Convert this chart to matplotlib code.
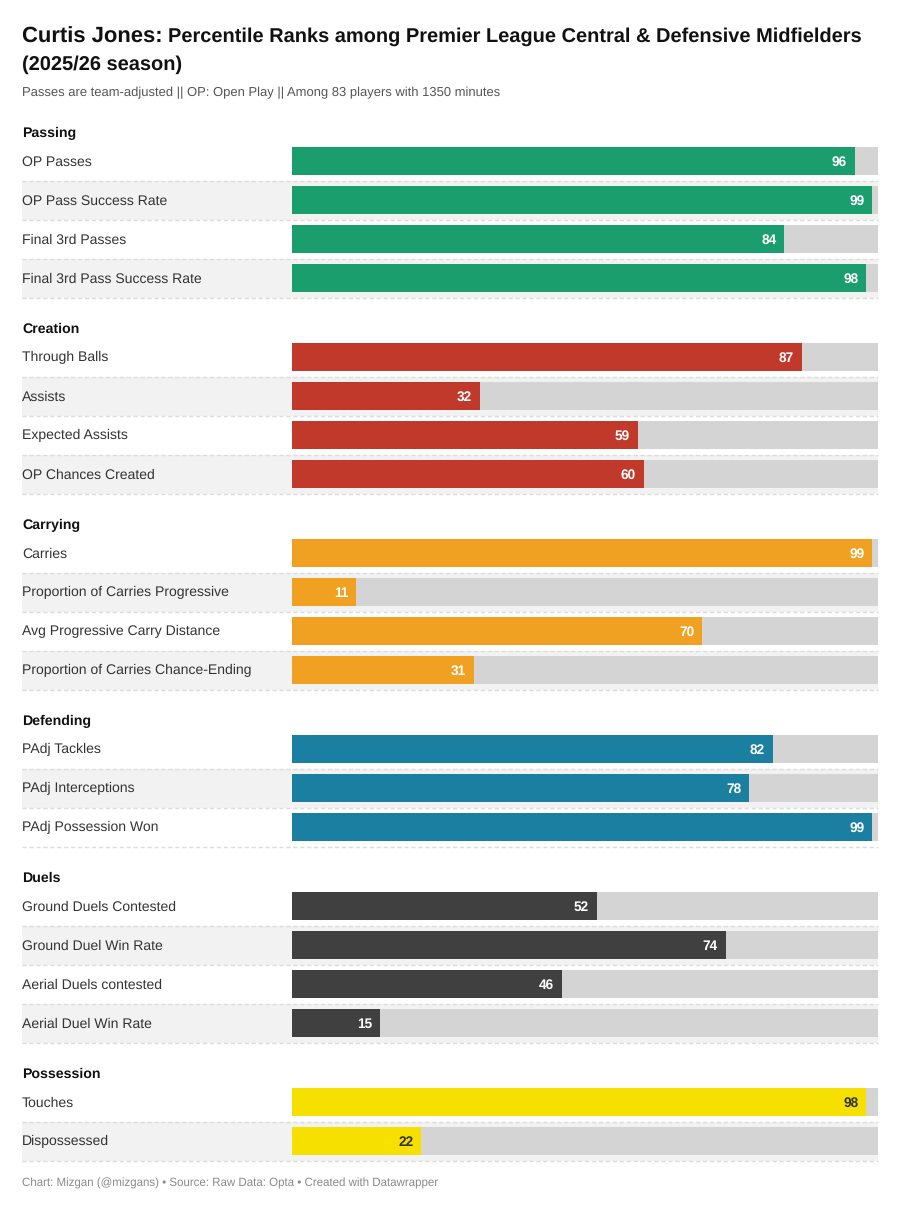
import matplotlib.pyplot as plt

plt.rcParams['font.family'] = ['Liberation Sans', 'DejaVu Sans']
plt.rcParams['text.hinting'] = 'no_hinting'

sections = ["Passing", "Creation", "Carrying", "Defending", "Duels", "Possession"]
colors = ["#1b9e6d", "#c0392b", "#f0a121", "#1b7fa2", "#404040", "#f5e000"]
text_colors = ["white", "white", "white", "white", "white", "#333333"]
metrics = [
    ["OP Passes", "OP Pass Success Rate", "Final 3rd Passes", "Final 3rd Pass Success Rate"],
    ["Through Balls", "Assists", "Expected Assists", "OP Chances Created"],
    ["Carries", "Proportion of Carries Progressive", "Avg Progressive Carry Distance",
     "Proportion of Carries Chance-Ending"],
    ["PAdj Tackles", "PAdj Interceptions", "PAdj Possession Won"],
    ["Ground Duels Contested", "Ground Duel Win Rate", "Aerial Duels contested", "Aerial Duel Win Rate"],
    ["Touches", "Dispossessed"],
]
values = [
    [96, 99, 84, 98],
    [87, 32, 59, 60],
    [99, 11, 70, 31],
    [82, 78, 99],
    [52, 74, 46, 15],
    [98, 22],
]

W, H = 910, 1219
fig = plt.figure(figsize=(W / 100, H / 100), dpi=100)
ax = fig.add_axes([0, 0, 1, 1])
ax.set_xlim(0, W)
ax.set_ylim(H, 0)
ax.axis('off')

# bar area: x pixels 292..878
bx = fig.add_axes([292 / W, 0, (878 - 292) / W, 1])
bx.set_xlim(0, 100)
bx.set_ylim(H, 0)
bx.axis('off')
bx.patch.set_alpha(0)

# title
t1 = ax.text(22, 34.5, "Curtis Jones:", fontsize=15.8, fontweight='bold', color='#111111', va='center_baseline')
fig.canvas.draw()
bb = t1.get_window_extent()
ax.text(bb.x1 + 5, 34.5, "Percentile Ranks among Premier League Central & Defensive Midfielders",
        fontsize=14.4, fontweight='bold', color='#111111', va='center_baseline')
ax.text(22, 62.5, "(2025/26 season)", fontsize=14.4, fontweight='bold', color='#111111', va='center_baseline')
ax.text(22, 92, "Passes are team-adjusted || OP: Open Play || Among 83 players with 1350 minutes",
        fontsize=9.4, color='#555555', va='center_baseline')

# layout of rows
row_h = 39
y = 132
for s, sec in enumerate(sections):
    ax.text(22, y - 0.5, sec, fontsize=10.2, fontweight='bold', color='#111111', va='center_baseline')
    y += 29
    for i, (m, v) in enumerate(zip(metrics[s], values[s])):
        if i % 2 == 1:
            ax.add_patch(plt.Rectangle((22, y - 19.5), 878 - 22, row_h, color='#f2f2f2', lw=0, zorder=0))
        ax.plot([22, 878], [y + 19.5, y + 19.5], color='#dcdcdc', lw=1, ls=(0, (3, 2)), zorder=1)
        ax.text(22, y - 0.5, m, fontsize=10.1, color='#333333', va='center_baseline')
        bx.barh(y, 100, height=28, color='#d4d4d4', lw=0, zorder=2)
        bx.barh(y, v, height=28, color=colors[s], lw=0, zorder=3)
        bx.text(v - 1.3, y - 0.3, str(v), fontsize=9.8, fontweight='bold', color=text_colors[s],
                ha='right', va='center_baseline', zorder=4)
        y += row_h
    y += 11

ax.text(22, 1182.5, "Chart: Mizgan (@mizgans) \u2022 Source: Raw Data: Opta \u2022 Created with Datawrapper",
        fontsize=8.3, color='#8a8a8a', va='center_baseline')

fig.savefig("out.png", dpi=100)
